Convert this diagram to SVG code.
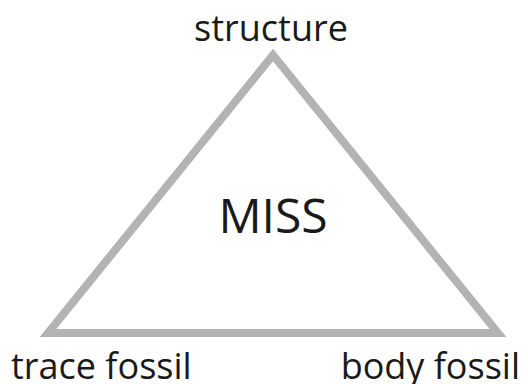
<svg xmlns="http://www.w3.org/2000/svg" width="528" height="384" viewBox="0 0 528 384">
<style>
.lbl{font-family:"Open Sans","Liberation Sans",sans-serif;fill:#1a1a1a}
.edge{fill:none;stroke:#b3b3b3;stroke-width:8;stroke-linejoin:miter;stroke-miterlimit:10}
</style>
<rect width="528" height="384" fill="#ffffff"/>
<g id="connectors">
<polygon class="edge" points="273,55 498,333 48,333"/>
</g>
<g id="node-structure"><text class="lbl" x="271" y="41" font-size="36" text-anchor="middle">structure</text></g>
<g id="node-miss"><text class="lbl" x="273" y="233" font-size="48" text-anchor="middle">MISS</text></g>
<g id="node-trace"><text class="lbl" x="11" y="379" font-size="36">trace fossil</text></g>
<g id="node-body"><text class="lbl" x="520" y="379" font-size="36" text-anchor="end">body fossil</text></g>
</svg>
